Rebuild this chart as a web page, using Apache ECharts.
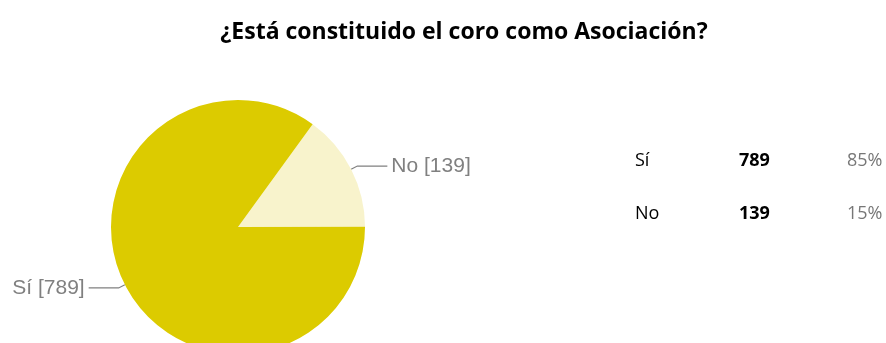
<!DOCTYPE html>
<html><head><meta charset="utf-8">
<script src="https://cdn.jsdelivr.net/npm/echarts@6/dist/echarts.min.js"></script>
<style>html,body{margin:0;padding:0;background:#fff}#c{width:886px;height:343px}</style>
</head><body><div id="c"></div>
<script>
var categories = ['No', 'Sí'];
var values = [139, 789];
var tableCategories = ['Sí', 'No'];
var tableValues = [789, 139];
var tablePercents = ['85%', '15%'];
var titleText = '¿Está constituido el coro como Asociación?';

var chart = echarts.init(document.getElementById('c'));
var graphic = [];
for (var i = 0; i < tableCategories.length; i++) {
  var y = 161 + i * 53;
  graphic.push({type:'text', x:635, y:y, style:{text:tableCategories[i], fill:'#000', font:'18px "Open Sans", sans-serif', verticalAlign:'middle'}});
  graphic.push({type:'text', x:739, y:y, style:{text:String(tableValues[i]), fill:'#000', font:'bold 18px "Open Sans", sans-serif', verticalAlign:'middle'}});
  graphic.push({type:'text', x:847, y:y, style:{text:tablePercents[i], fill:'#777', font:'18px "Open Sans", sans-serif', verticalAlign:'middle'}});
}
graphic.push({type:'text', x:464, y:32, style:{text:titleText, fill:'#000', font:'bold 23px "Open Sans", sans-serif', align:'center', verticalAlign:'middle'}});
chart.setOption({
  animation:false,
  graphic: graphic,
  series:[{
    type:'pie', center:[238,227], radius:127, startAngle:54, clockwise:true,
    data: categories.map(function(c,i){return {name:c, value:values[i]};}),
    color:['#F8F3CC','#DCCB00'],
    label:{formatter:'{b} [{c}]', color:'#808080', fontFamily:'"Liberation Sans", Arial', fontSize:21, distanceToLabelLine:4},
    labelLine:{length:7, length2:30, lineStyle:{color:'#808080', width:1.2}},
    itemStyle:{borderWidth:0}
  }]
});
</script></body></html>
